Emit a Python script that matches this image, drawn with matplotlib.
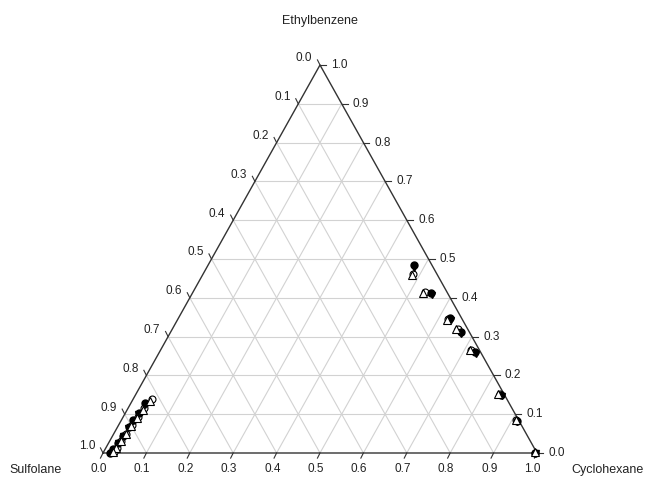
import numpy as np
import matplotlib.pyplot as plt

plt.rcParams['font.family'] = ['Liberation Sans', 'DejaVu Sans']

# mole fractions (cyclohexane, ethylbenzene); sulfolane = 1 - both
# raffinate (cyclohexane rich) phase
exp_raff_cyc = [0.473, 0.549, 0.626, 0.668, 0.727, 0.842, 0.912, 0.996]
exp_raff_eb = [0.485, 0.413, 0.347, 0.313, 0.261, 0.150, 0.083, 0.000]
nrtl_raff_cyc = [0.478, 0.553, 0.630, 0.672, 0.731, 0.845, 0.914, 0.997]
nrtl_raff_eb = [0.478, 0.408, 0.342, 0.307, 0.256, 0.147, 0.081, 0.000]
uniq_raff_cyc = [0.482, 0.532, 0.620, 0.655, 0.712, 0.835, 0.908, 0.995]
uniq_raff_eb = [0.459, 0.412, 0.343, 0.319, 0.265, 0.152, 0.086, 0.002]
lit_raff_cyc = [0.484, 0.535, 0.622, 0.657, 0.714, 0.838, 0.910, 0.996]
lit_raff_eb = [0.462, 0.414, 0.345, 0.320, 0.266, 0.153, 0.084, 0.001]

# extract (sulfolane rich) phase
exp_ext_cyc = [0.032, 0.030, 0.027, 0.025, 0.023, 0.021, 0.019, 0.017]
exp_ext_eb = [0.128, 0.104, 0.085, 0.068, 0.045, 0.027, 0.010, 0.000]
nrtl_ext_cyc = [0.034, 0.031, 0.028, 0.026, 0.024, 0.022, 0.020, 0.018]
nrtl_ext_eb = [0.124, 0.100, 0.082, 0.065, 0.043, 0.025, 0.008, 0.000]
uniq_ext_cyc = [0.040, 0.036, 0.033, 0.030, 0.028, 0.026, 0.024, 0.022]
uniq_ext_eb = [0.135, 0.112, 0.090, 0.070, 0.048, 0.030, 0.012, 0.002]
lit_ext_cyc = [0.042, 0.037, 0.034, 0.031, 0.029, 0.027, 0.025, 0.023]
lit_ext_eb = [0.140, 0.116, 0.093, 0.072, 0.050, 0.031, 0.013, 0.003]

ticks = np.round(np.arange(0, 1.01, 0.1), 1)


def to_xy(cyc, eb):
    cyc = np.asarray(cyc)
    eb = np.asarray(eb)
    return cyc + eb / 2, eb


fig = plt.figure(figsize=(6.52, 4.79), dpi=100)
ax = fig.add_axes([103 / 652, 26 / 479, 434 / 652, 388 / 479])
ax.set_xlim(0, 1)
ax.set_ylim(0, 1)
ax.axis('off')

grid_kw = dict(color='#d2d2d2', lw=0.8, zorder=1)
for f in ticks[1:-1]:
    # constant ethylbenzene
    ax.plot([f / 2, 1 - f / 2], [f, f], **grid_kw)
    # constant cyclohexane
    ax.plot([f, (1 + f) / 2], [0, 1 - f], **grid_kw)
    # constant sulfolane
    ax.plot([1 - f, (1 - f) / 2], [0, 1 - f], **grid_kw)

ax.plot([0, 1, 0.5, 0], [0, 0, 1, 0], color='#333333', lw=1.0, zorder=2, clip_on=False)

# tick lengths in axes units (about 6 px)
kx = 6 / 434
ky = 6 / 388
lab = dict(fontsize=8.5, color='#222222')
for f in ticks:
    # bottom axis: cyclohexane
    x0, y0 = f, 0
    x1, y1 = x0 - 0.5 * kx * 0.85, y0 - ky * 0.85
    ax.plot([x0, x1], [y0, y1], color='#333333', lw=0.8, clip_on=False)
    ax.text(x1 - 0.004, y1 - 0.012, f'{f:.1f}', ha='center', va='top', **lab)
    # right axis: ethylbenzene
    x0, y0 = 1 - f / 2, f
    x1 = x0 + kx
    ax.plot([x0, x1], [y0, y0], color='#333333', lw=0.8, clip_on=False)
    ax.text(x1 + 0.012, y0, f'{f:.1f}', ha='left', va='center', **lab)
    # left axis: sulfolane
    x0, y0 = (1 - f) / 2, 1 - f
    x1, y1 = x0 - 0.5 * kx * 0.85, y0 + ky * 0.85
    ax.plot([x0, x1], [y0, y1], color='#333333', lw=0.8, clip_on=False)
    ax.text(x1 - 0.012, y1 + 0.004, f'{f:.1f}', ha='right', va='center', **lab)

ms = 5
for cyc, eb in [(lit_raff_cyc, lit_raff_eb), (lit_ext_cyc, lit_ext_eb)]:
    x, y = to_xy(cyc, eb)
    ax.plot(x, y, 'o', ms=ms, mfc='white', mec='black', mew=0.8, ls='none', clip_on=False, zorder=3)
for cyc, eb in [(exp_raff_cyc, exp_raff_eb), (exp_ext_cyc, exp_ext_eb)]:
    x, y = to_xy(cyc, eb)
    ax.plot(x, y, 'o', ms=ms, mfc='black', mec='black', ls='none', clip_on=False, zorder=4)
for cyc, eb in [(nrtl_raff_cyc, nrtl_raff_eb), (nrtl_ext_cyc, nrtl_ext_eb)]:
    x, y = to_xy(cyc, eb)
    ax.plot(x, y, 'v', ms=ms, mfc='black', mec='black', ls='none', clip_on=False, zorder=4)
for cyc, eb in [(uniq_raff_cyc, uniq_raff_eb), (uniq_ext_cyc, uniq_ext_eb)]:
    x, y = to_xy(cyc, eb)
    ax.plot(x, y, '^', ms=ms + 0.5, mfc='white', mec='black', mew=0.8, ls='none', clip_on=False, zorder=5)

fig.text(320 / 652, 1 - 21 / 479, 'Ethylbenzene', ha='center', va='center', fontsize=9, color='#222222')
fig.text(36 / 652, 1 - 470 / 479, 'Sulfolane', ha='center', va='center', fontsize=9, color='#222222')
fig.text(608 / 652, 1 - 470 / 479, 'Cyclohexane', ha='center', va='center', fontsize=9, color='#222222')

fig.savefig('out.png', dpi=100)
